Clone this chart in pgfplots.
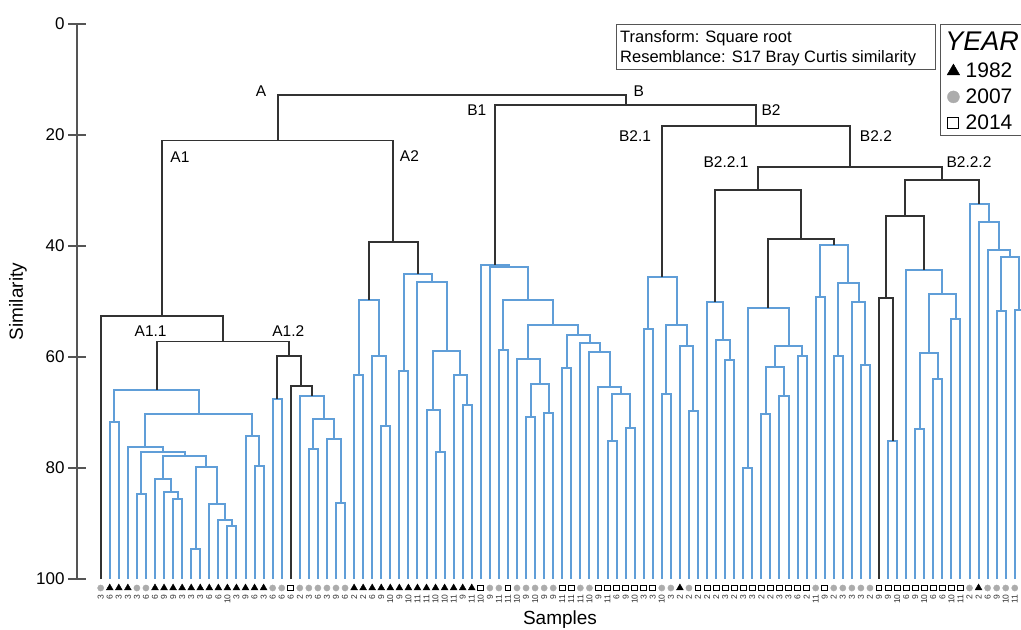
\documentclass[border=0pt]{standalone}
\usepackage{fontspec}
\setmainfont{Liberation Sans}
\usepackage{pgfplots}
\pgfplotsset{compat=1.18}
\definecolor{dk}{RGB}{50,50,50}
\definecolor{bl}{RGB}{96,158,216}
\definecolor{gy}{RGB}{172,172,172}
\definecolor{axc}{RGB}{85,85,85}
% one merge of the dendrogram: left x, left child height, merge height, right x, right child height
\newcommand{\U}[6][blk]{\addplot[#1] coordinates {(#2,#3) (#2,#4) (#5,#4) (#5,#6)};}
\newcommand{\clab}{\fontsize{15.5}{17}\selectfont}
\begin{document}
\begin{tikzpicture}
\begin{axis}[
 scale only axis, width=944pt, height=555pt,
 xmin=-2.619, xmax=101.69, ymin=0, ymax=100, y dir=reverse,
 axis x line=none, axis y line*=left,
 ytick={0,20,...,100},
 y axis line style={color=axc, line width=1.2pt},
 ytick style={color=axc, line width=1.2pt},
 tick align=center, major tick length=18pt,
 yticklabel style={font=\fontsize{17}{17}\selectfont, color=black},
 /pgf/number format/assume math mode=true,
 clip=false,
 blk/.style={color=dk, line width=1.9pt, forget plot},
 blu/.style={color=bl, line width=2pt, forget plot},
 legend style={at={(axis cs:93.18,6.3)}, anchor=north west, draw=none, fill=none,
   font=\fontsize{21}{23}\selectfont, row sep=5.5pt, cells={anchor=west}},
]
% ---------- A1.1 ----------
\U[blu]{1}{100}{71.8}{2}{100}
\U[blu]{4}{100}{84.6}{5}{100}
\U[blu]{8}{100}{85.6}{9}{100}
\U[blu]{7}{100}{84.4}{8.5}{85.6}
\U[blu]{6}{100}{82.0}{7.75}{84.4}
\U[blu]{10}{100}{94.6}{11}{100}
\U[blu]{14}{100}{90.4}{15}{100}
\U[blu]{13}{100}{89.4}{14.5}{90.4}
\U[blu]{12}{100}{86.5}{13.75}{89.4}
\U[blu]{10.5}{94.6}{79.8}{12.875}{86.5}
\U[blu]{6.875}{82.0}{77.8}{11.6875}{79.8}
\U[blu]{4.5}{84.6}{77.2}{9.28125}{77.8}
\U[blu]{3}{100}{76.2}{6.890625}{77.2}
\U[blu]{17}{100}{79.7}{18}{100}
\U[blu]{16}{100}{74.2}{17.5}{79.7}
\U[blu]{4.9453}{76.2}{70.2}{16.75}{74.2}
\U[blu]{1.5}{71.8}{65.9}{10.8477}{70.2}
% ---------- A1.2 ----------
\U[blu]{19}{100}{67.6}{20}{100}
\U[blu]{26}{100}{86.3}{27}{100}
\U[blu]{25}{100}{74.8}{26.5}{86.3}
\U[blu]{23}{100}{76.5}{24}{100}
\U[blu]{23.5}{76.5}{71.2}{25.75}{74.8}
\U[blu]{22}{100}{67.0}{24.625}{71.2}
% ---------- A2 ----------
\U[blu]{28}{100}{63.2}{29}{100}
\U[blu]{31}{100}{72.4}{32}{100}
\U[blu]{30}{100}{59.9}{31.5}{72.4}
\U[blu]{28.5}{63.2}{49.8}{30.75}{59.9}
\U[blu]{33}{100}{62.5}{34}{100}
\U[blu]{37}{100}{77.1}{38}{100}
\U[blu]{36}{100}{69.5}{37.5}{77.1}
\U[blu]{40}{100}{68.6}{41}{100}
\U[blu]{39}{100}{63.3}{40.5}{68.6}
\U[blu]{36.75}{69.5}{58.9}{39.75}{63.3}
\U[blu]{35}{100}{46.4}{38.25}{58.9}
\U[blu]{33.5}{62.5}{45.1}{36.625}{46.4}
% ---------- B1 ----------
\U[blu]{44}{100}{58.7}{45}{100}
\U[blu]{47}{100}{70.8}{48}{100}
\U[blu]{49}{100}{70.1}{50}{100}
\U[blu]{47.5}{70.8}{64.9}{49.5}{70.1}
\U[blu]{46}{100}{60.4}{48.5}{64.9}
\U[blu]{51}{100}{61.9}{52}{100}
\U[blu]{56}{100}{75.2}{57}{100}
\U[blu]{58}{100}{72.8}{59}{100}
\U[blu]{56.5}{75.2}{66.7}{58.5}{72.8}
\U[blu]{55}{100}{65.4}{57.5}{66.7}
\U[blu]{54}{100}{59.1}{56.25}{65.4}
\U[blu]{53}{100}{57.5}{55.125}{59.1}
\U[blu]{51.5}{61.9}{56.0}{54.0625}{57.5}
\U[blu]{47.25}{60.4}{54.3}{52.78125}{56.0}
\U[blu]{44.5}{58.7}{49.7}{50.015625}{54.3}
\U[blu]{43}{100}{43.7}{47.2578}{49.7}
\U[blu]{42}{100}{43.4}{45.1289}{43.7}
% ---------- B2.1 ----------
\U[blu]{60}{100}{54.9}{61}{100}
\U[blu]{62}{100}{66.6}{63}{100}
\U[blu]{65}{100}{69.8}{66}{100}
\U[blu]{64}{100}{58.0}{65.5}{69.8}
\U[blu]{62.5}{66.6}{54.2}{64.75}{58.0}
\U[blu]{60.5}{54.9}{45.6}{63.625}{54.2}
% ---------- B2.2.1 ----------
\U[blu]{69}{100}{60.6}{70}{100}
\U[blu]{68}{100}{56.9}{69.5}{60.6}
\U[blu]{67}{100}{50.0}{68.75}{56.9}
\U[blu]{71}{100}{80.0}{72}{100}
\U[blu]{73}{100}{70.2}{74}{100}
\U[blu]{75}{100}{67.1}{76}{100}
\U[blu]{73.5}{70.2}{61.8}{75.5}{67.1}
\U[blu]{77}{100}{59.9}{78}{100}
\U[blu]{74.5}{61.8}{58.1}{77.5}{59.9}
\U[blu]{71.5}{80.0}{51.1}{76}{58.1}
\U[blu]{79}{100}{49.2}{80}{100}
\U[blu]{81}{100}{59.9}{82}{100}
\U[blu]{84}{100}{61.4}{85}{100}
\U[blu]{83}{100}{50.0}{84.5}{61.4}
\U[blu]{81.5}{59.9}{46.7}{83.75}{50.0}
\U[blu]{79.5}{49.2}{39.9}{82.625}{46.7}
% ---------- B2.2.2 ----------
\U[blu]{87}{100}{75.1}{88}{100}
\U[blu]{90}{100}{73.0}{91}{100}
\U[blu]{92}{100}{63.9}{93}{100}
\U[blu]{90.5}{73.0}{59.2}{92.5}{63.9}
\U[blu]{94}{100}{53.2}{95}{100}
\U[blu]{91.5}{59.2}{48.6}{94.5}{53.2}
\U[blu]{89}{100}{44.4}{93}{48.6}
\U[blu]{99}{100}{51.7}{100}{100}
\U[blu]{101}{100}{51.6}{102}{100}
\U[blu]{99.5}{51.7}{41.9}{101.5}{51.6}
\U[blu]{98}{100}{40.8}{100.5}{41.9}
\U[blu]{97}{100}{35.7}{99.25}{40.8}
\U[blu]{96}{100}{32.4}{98.125}{35.7}
% ---------- upper structure (black) ----------
\U[blk]{21}{100}{65.2}{23.3125}{67.0}
\U[blk]{19.5}{67.6}{59.8}{22.15625}{65.2}
\U[blk]{6.1738}{65.9}{57.2}{20.828}{59.8}
\U[blk]{0}{100}{52.6}{13.501}{57.2}
\U[blk]{29.625}{49.8}{39.2}{35.0625}{45.1}
\U[blk]{6.7505}{52.6}{21.0}{32.34375}{39.2}
\U[blk]{73.75}{51.1}{38.7}{81.0625}{39.9}
\U[blk]{67.875}{50.0}{29.9}{77.40625}{38.7}
\U[blk]{86}{100}{49.4}{87.5}{75.1}
\U[blk]{86.75}{49.4}{34.6}{91}{44.4}
\U[blk]{88.875}{34.6}{28.1}{97.0625}{32.4}
\U[blk]{72.640625}{29.9}{25.7}{92.96875}{28.1}
\U[blk]{62.0625}{45.6}{18.3}{82.8047}{25.7}
\U[blk]{43.5645}{43.4}{14.6}{72.4336}{18.3}
\U[blk]{19.547}{21.0}{12.8}{57.999}{14.6}
% ---------- sample symbols ----------
\addplot[only marks, mark=triangle*, mark size=4pt, color=black, forget plot] coordinates {
(1,101.62) (2,101.62) (3,101.62) (6,101.62) (7,101.62) (8,101.62) (9,101.62) (10,101.62)
(11,101.62) (12,101.62) (13,101.62) (14,101.62) (15,101.62) (16,101.62) (17,101.62) (18,101.62)
(28,101.62) (29,101.62) (30,101.62) (31,101.62) (32,101.62) (33,101.62) (34,101.62) (35,101.62)
(36,101.62) (37,101.62) (38,101.62) (39,101.62) (40,101.62) (41,101.62) (64,101.62) (97,101.62)};
\addplot[only marks, mark=*, mark size=3.1pt, color=gy, forget plot] coordinates {
(0,101.62) (4,101.62) (5,101.62) (19,101.62) (20,101.62) (22,101.62) (23,101.62) (24,101.62)
(25,101.62) (26,101.62) (27,101.62) (43,101.62) (44,101.62) (46,101.62) (47,101.62) (48,101.62)
(49,101.62) (50,101.62) (53,101.62) (54,101.62) (62,101.62) (63,101.62) (65,101.62) (79,101.62)
(81,101.62) (82,101.62) (83,101.62) (84,101.62) (85,101.62) (96,101.62) (98,101.62) (99,101.62)
(100,101.62) (101,101.62)};
\addplot[only marks, mark=square*, mark size=2.9pt, color=black, line width=0.9pt,
  mark options={fill=white}, forget plot] coordinates {
(21,101.62) (42,101.62) (45,101.62) (51,101.62) (52,101.62) (55,101.62) (56,101.62) (57,101.62)
(58,101.62) (59,101.62) (60,101.62) (61,101.62) (66,101.62) (67,101.62) (68,101.62) (69,101.62)
(70,101.62) (71,101.62) (72,101.62) (73,101.62) (74,101.62) (75,101.62) (76,101.62) (77,101.62)
(78,101.62) (80,101.62) (86,101.62) (87,101.62) (88,101.62) (89,101.62) (90,101.62) (91,101.62)
(92,101.62) (93,101.62) (94,101.62) (95,101.62)};
% ---------- legend ----------
\addlegendimage{only marks, mark=triangle*, mark size=7.2pt, color=black}
\addlegendentry{\hspace{4pt}1982}
\addlegendimage{only marks, mark=*, mark size=6pt, color=gy}
\addlegendentry{\hspace{4pt}2007}
\addlegendimage{only marks, mark=square*, mark size=5.5pt, color=black, line width=1pt, mark options={fill=white}}
\addlegendentry{\hspace{4pt}2014}
% ---------- sample labels ----------
\addplot[draw=none, forget plot, nodes near coords, point meta=explicit symbolic,
  every node near coord/.append style={rotate=90, anchor=east, inner sep=0pt,
  font=\fontsize{8.5}{8.5}\selectfont, color=dk}] table[meta=lab] {
x y lab
0 102.75 3
1 102.75 6
2 102.75 3
3 102.75 3
4 102.75 3
5 102.75 6
6 102.75 6
7 102.75 9
8 102.75 9
9 102.75 3
10 102.75 3
11 102.75 3
12 102.75 6
13 102.75 6
14 102.75 10
15 102.75 3
16 102.75 9
17 102.75 6
18 102.75 3
19 102.75 6
20 102.75 6
21 102.75 6
22 102.75 2
23 102.75 3
24 102.75 6
25 102.75 3
26 102.75 9
27 102.75 6
28 102.75 2
29 102.75 2
30 102.75 6
31 102.75 9
32 102.75 10
33 102.75 9
34 102.75 10
35 102.75 11
36 102.75 11
37 102.75 10
38 102.75 10
39 102.75 11
40 102.75 9
41 102.75 11
42 102.75 10
43 102.75 9
44 102.75 11
45 102.75 11
46 102.75 10
47 102.75 9
48 102.75 10
49 102.75 9
50 102.75 9
51 102.75 11
52 102.75 11
53 102.75 11
54 102.75 10
55 102.75 9
56 102.75 11
57 102.75 6
58 102.75 9
59 102.75 10
60 102.75 3
61 102.75 3
62 102.75 10
63 102.75 3
64 102.75 2
65 102.75 2
66 102.75 2
67 102.75 2
68 102.75 2
69 102.75 3
70 102.75 2
71 102.75 3
72 102.75 3
73 102.75 2
74 102.75 2
75 102.75 3
76 102.75 3
77 102.75 6
78 102.75 2
79 102.75 11
80 102.75 9
81 102.75 2
82 102.75 3
83 102.75 3
84 102.75 3
85 102.75 2
86 102.75 9
87 102.75 9
88 102.75 10
89 102.75 6
90 102.75 9
91 102.75 10
92 102.75 6
93 102.75 6
94 102.75 10
95 102.75 11
96 102.75 2
97 102.75 2
98 102.75 6
99 102.75 9
100 102.75 10
101 102.75 11
};
% ---------- cluster labels ----------
\node[font=\clab] at (axis cs:17.71,12.02) {A};
\node[font=\clab] at (axis cs:59.45,12.02) {B};
\node[font=\clab] at (axis cs:41.55,15.50) {B1};
\node[font=\clab] at (axis cs:74.07,15.50) {B2};
\node[font=\clab] at (axis cs:59.04,20.13) {B2.1};
\node[font=\clab] at (axis cs:85.66,20.13) {B2.2};
\node[font=\clab] at (axis cs:8.76,23.96) {A1};
\node[font=\clab] at (axis cs:34.11,23.78) {A2};
\node[font=\clab] at (axis cs:69.09,24.81) {B2.2.1};
\node[font=\clab] at (axis cs:95.94,24.81) {B2.2.2};
\node[font=\clab] at (axis cs:5.52,55.26) {A1.1};
\node[font=\clab] at (axis cs:20.73,55.26) {A1.2};
% ---------- axis titles ----------
\node[rotate=90, font=\fontsize{19}{19}\selectfont] at (axis cs:-9.14,50) {Similarity};
\node[font=\fontsize{19}{19}\selectfont] at (axis cs:50.75,107.4) {Samples};
% ---------- info box ----------
\draw[color=axc, line width=1pt] (axis cs:56.94,0.18) rectangle (axis cs:92.19,8.11);
\node[anchor=base west, inner sep=0pt, font=\fontsize{16.5}{18}\selectfont] at (axis cs:57.38,3.37) {Transform: Square root};
\node[anchor=base west, inner sep=0pt, font=\fontsize{16.5}{18}\selectfont] at (axis cs:57.38,6.97) {Resemblance: S17 Bray Curtis similarity};
% ---------- legend frame and title ----------
\draw[color=axc, line width=1pt] (axis cs:92.74,0.18) rectangle (axis cs:104,20.18);
\node[anchor=base west, inner sep=0pt, font=\fontsize{27}{27}\selectfont\itshape] at (axis cs:93.3,4.75) {YEAR};
\coordinate (BBa) at (axis cs:-11.127,-4.324);
\coordinate (BBb) at (axis cs:101.69,109.01);
\end{axis}
\pgfresetboundingbox
\path[use as bounding box] (BBa) rectangle (BBb);
\end{tikzpicture}
\end{document}
